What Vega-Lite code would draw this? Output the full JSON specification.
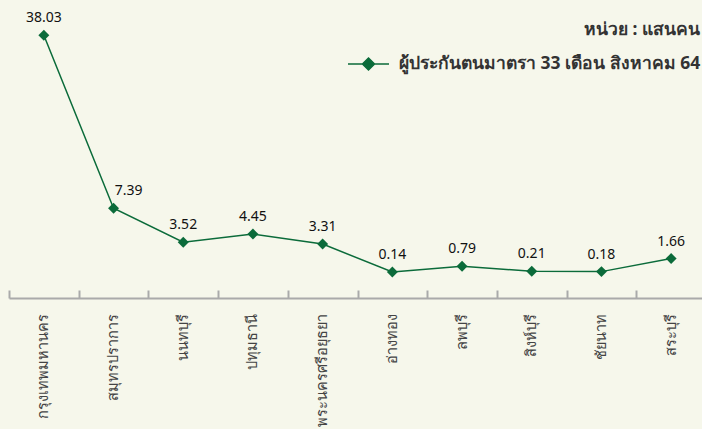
{
  "$schema": "https://vega.github.io/schema/vega-lite/v6.json",
  "autosize": "none",
  "width": 697,
  "height": 275,
  "padding": {"left": 9, "top": 23, "right": 0, "bottom": 131},
  "background": "#f6f7eb",
  "config": {"view": {"stroke": null}, "font": "Tahoma, Noto Sans, sans-serif"},
  "data": {"values": [
    {"province": "กรุงเทพมหานคร", "value": 38.03, "series": "ผู้ประกันตนมาตรา 33 เดือน สิงหาคม 64"},
    {"province": "สมุทรปราการ", "value": 7.39, "series": "ผู้ประกันตนมาตรา 33 เดือน สิงหาคม 64"},
    {"province": "นนทบุรี", "value": 3.52, "series": "ผู้ประกันตนมาตรา 33 เดือน สิงหาคม 64"},
    {"province": "ปทุมธานี", "value": 4.45, "series": "ผู้ประกันตนมาตรา 33 เดือน สิงหาคม 64"},
    {"province": "พระนครศรีอยุธยา", "value": 3.31, "series": "ผู้ประกันตนมาตรา 33 เดือน สิงหาคม 64"},
    {"province": "อ่างทอง", "value": 0.14, "series": "ผู้ประกันตนมาตรา 33 เดือน สิงหาคม 64"},
    {"province": "ลพบุรี", "value": 0.79, "series": "ผู้ประกันตนมาตรา 33 เดือน สิงหาคม 64"},
    {"province": "สิงห์บุรี", "value": 0.21, "series": "ผู้ประกันตนมาตรา 33 เดือน สิงหาคม 64"},
    {"province": "ชัยนาท", "value": 0.18, "series": "ผู้ประกันตนมาตรา 33 เดือน สิงหาคม 64"},
    {"province": "สระบุรี", "value": 1.66, "series": "ผู้ประกันตนมาตรา 33 เดือน สิงหาคม 64"}
  ]},
  "encoding": {
    "x": {"field": "province", "type": "nominal", "sort": null,
      "scale": {"type": "band", "paddingInner": 0, "paddingOuter": 0},
      "axis": {"title": null, "tickBand": "extent", "tickSize": -8, "tickColor": "#aaaaaa", "tickWidth": 2,
        "domainColor": "#aaaaaa", "domainWidth": 2, "labelAngle": -90, "labelPadding": 23,
        "labelFontSize": 14.5, "labelColor": "#444444", "labelAlign": "right", "labelBaseline": "middle", "labelLimit": 200, "grid": false}},
    "y": {"field": "value", "type": "quantitative",
      "scale": {"domain": [-2.82, 7.39, 40.2], "range": [275, 185.2, 0], "nice": false, "zero": false}, "axis": null}
  },
  "layer": [
    {"mark": {"type": "line", "color": "#0b6b3a", "strokeWidth": 1.5}},
    {"mark": {"type": "point", "shape": "diamond", "filled": true, "size": 120, "opacity": 1},
      "encoding": {"color": {"field": "series", "type": "nominal", "scale": {"range": ["#0b6b3a"]},
        "legend": {"title": "หน่วย : แสนคน", "orient": "none", "legendX": 345, "legendY": -2,
          "titleAnchor": "end", "titleFontSize": 17.5, "titleFontWeight": "bold", "titleColor": "#333333", "titlePadding": 11,
          "labelFontSize": 17.5, "labelFontWeight": "bold", "labelColor": "#333333", "labelOffset": 16, "labelLimit": 400,
          "symbolType": "M-1.5,0H1.5M0,-0.44L0.44,0L0,0.44L-0.44,0Z", "symbolSize": 750, "symbolStrokeWidth": 1.5,
          "symbolStrokeColor": "#0b6b3a", "symbolFillColor": "#0b6b3a"}}}},
    {"transform": [{"filter": "datum.value != 7.39"}],
      "mark": {"type": "text", "dy": -17, "fontSize": 14, "fontWeight": "normal", "color": "#111111"},
      "encoding": {"text": {"field": "value", "type": "quantitative", "format": ".2f"}}},
    {"transform": [{"filter": "datum.value == 7.39"}],
      "mark": {"type": "text", "dy": -17, "dx": 15, "fontSize": 14, "fontWeight": "normal", "color": "#111111"},
      "encoding": {"text": {"field": "value", "type": "quantitative", "format": ".2f"}}}
  ]
}
